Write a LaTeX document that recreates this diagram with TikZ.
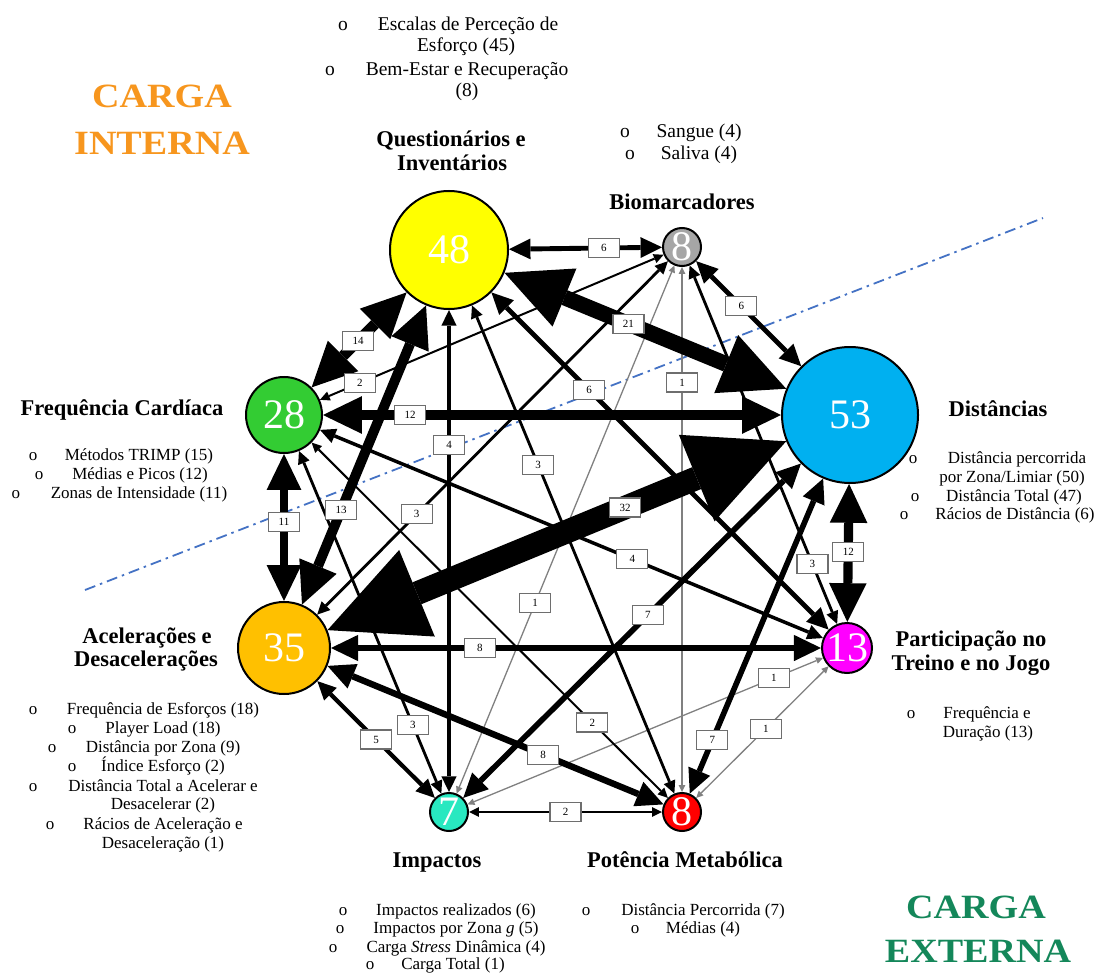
\documentclass[tikz,border=0pt]{standalone}
\usepackage{fontspec}
\setmainfont{Liberation Serif}
\usepackage{graphicx}
\usetikzlibrary{arrows.meta}
\pgfdeclarelayer{edgelayer}
\pgfsetlayers{edgelayer,main}

\definecolor{qyellow}{RGB}{255,255,0}
\definecolor{bgray}{RGB}{166,166,166}
\definecolor{dblue}{RGB}{0,176,240}
\definecolor{hgreen}{RGB}{51,204,51}
\definecolor{aorange}{RGB}{255,192,0}
\definecolor{pmagenta}{RGB}{255,0,255}
\definecolor{iturq}{RGB}{40,232,192}
\definecolor{mred}{RGB}{255,0,0}
\definecolor{intcol}{RGB}{247,150,30}
\definecolor{extcol}{RGB}{20,135,90}
\definecolor{splitblue}{RGB}{68,114,196}
\definecolor{boxgray}{RGB}{110,110,110}
\definecolor{thingray}{RGB}{128,128,128}

\tikzset{
  circ/.style={circle, draw=black, line width=2pt, inner sep=0pt, minimum size=#1},
  num/.style={text=white, font=\fontsize{42}{42}\selectfont, inner sep=0pt},
  % weighted double-headed connector: shaft width, head length, head width
  wgt/.style n args={3}{line width=#1pt,
    arrows={Triangle[length=#2pt,width=#3pt,line width=0pt]-Triangle[length=#2pt,width=#3pt,line width=0pt]}},
  e1/.style={wgt={1.3}{7}{6.8}, draw=thingray},
  e2/.style={wgt={2.0}{9.8}{9.6}},
  e3/.style={wgt={2.8}{12.7}{12.4}},
  e4/.style={wgt={3.5}{15.6}{15.2}},
  e5/.style={wgt={4.2}{18.5}{18}},
  e6/.style={wgt={4.9}{21.4}{20.8}},
  e7/.style={wgt={5.6}{24.3}{23.6}},
  e8/.style={wgt={6.4}{27.2}{26.4}},
  e11/.style={wgt={8.5}{35.9}{34.8}},
  e12/.style={wgt={9.2}{38.8}{37.6}},
  e13/.style={wgt={10}{41.7}{40.4}},
  e14/.style={wgt={10.7}{44.6}{43.2}},
  e21/.style={wgt={15.7}{64.9}{62.8}},
  e32/.style={wgt={23.6}{96.8}{93.6}},
  lab/.style={draw=boxgray, fill=white, line width=1.2pt, inner sep=0pt,
    minimum width=31pt, minimum height=19pt, font=\fontsize{11}{11}\selectfont},
  txt/.style={font=\fontsize{17}{19}\selectfont, anchor=base, inner sep=0pt},
  txtb/.style={font=\fontsize{19.5}{22}\selectfont, anchor=base, inner sep=0pt},
  ttl/.style={font=\bfseries\fontsize{22.5}{25}\selectfont, anchor=base, inner sep=0pt},
  big/.style={font=\bfseries\fontsize{34}{36}\selectfont, anchor=base, inner sep=0pt},
  splitline/.style={draw=splitblue, line width=1.8pt, dash pattern=on 11pt off 5pt on 2.5pt off 5pt},
}

\begin{document}
\begin{tikzpicture}[x=1pt,y=-1pt]
\useasboundingbox (0,0) rectangle (1099,973);

% ---- measure categories ----
\node[circ=118, fill=qyellow, label={[num]center:48}] (Q) at (449,250) {};
\node[circ=38, fill=bgray, label={[num]center:8}] (B) at (682,247) {};
\node[circ=136, fill=dblue, label={[num]center:53}] (D) at (850,415) {};
\node[circ=76, fill=hgreen, label={[num]center:28}] (H) at (284,415) {};
\node[circ=92, fill=aorange, label={[num]center:35}] (A) at (284,648) {};
\node[circ=50, fill=pmagenta, label={[num]center:13}] (P) at (847,648) {};
\node[circ=38, fill=iturq, label={[num]center:7}] (I) at (449,812) {};
\node[circ=38, fill=mred, label={[num]center:8}] (M) at (682,812) {};

% ---- co-occurrence links ----
\begin{pgfonlayer}{edgelayer}
\draw[splitline] (85,590) -- (1043,218);
\draw[e1] (B) -- coordinate[pos=0.22] (lBM) (M);
\draw[e1] (B) -- coordinate[pos=0.639] (lBI) (I);
\draw[e1] (I) -- coordinate[pos=0.862] (lIP) (P);
\draw[e1] (M) -- coordinate[pos=0.526] (lMP) (P);
\draw[e2] (H) -- coordinate[pos=0.116] (lHB) (B);
\draw[e2] (H) -- coordinate[pos=0.788] (lHM) (M);
\draw[e2] (I) -- coordinate[pos=0.5] (lIM) (M);
\draw[e3] (Q) -- coordinate[pos=0.327] (lQM) (M);
\draw[e3] (B) -- coordinate[pos=0.716] (lBA) (A);
\draw[e3] (B) -- coordinate[pos=0.833] (lBP) (P);
\draw[e3] (H) -- coordinate[pos=0.80] (lHI) (I);
\draw[e4] (Q) -- coordinate[pos=0.28] (lQI) (I);
\draw[e4] (H) -- coordinate[pos=0.621] (lHP) (P);
\draw[e5] (A) -- coordinate[pos=0.5] (lAI) (I);
\draw[e6] (Q) -- coordinate[pos=0.62] (lQB) (B);
\draw[e6] (B) -- coordinate[pos=0.43] (lBD) (D);
\draw[e6] (Q) -- coordinate[pos=0.29] (lQP) (P);
\draw[e7] (I) -- coordinate[pos=0.547] (lID) (D);
\draw[e7] (M) -- coordinate[pos=0.169] (lMD) (D);
\draw[e8] (A) -- coordinate[pos=0.304] (lAP) (P);
\draw[e8] (A) -- coordinate[pos=0.642] (lAM) (M);
\draw[e11] (H) -- coordinate[pos=0.46] (lHA) (A);
\draw[e12] (H) -- coordinate[pos=0.19] (lHD) (D);
\draw[e12] (D) -- coordinate[pos=0.49] (lDP) (P);
\draw[e13] (Q) -- coordinate[pos=0.684] (lQA) (A);
\draw[e14] (Q) -- coordinate[pos=0.51] (lQH) (H);
\draw[e21] (Q) -- coordinate[pos=0.44] (lQD) (D);
\draw[e32] (A) -- coordinate[pos=0.649] (lAD) (D);
\end{pgfonlayer}

% ---- link counts ----
\node[lab] (nBM) at (lBM) {1};
\node[lab] (nBI) at (lBI) {1};
\node[lab] (nIP) at (lIP) {1};
\node[lab] (nMP) at (lMP) {1};
\node[lab] (nHB) at (lHB) {2};
\node[lab] (nHM) at (lHM) {2};
\node[lab] (nIM) at (lIM) {2};
\node[lab] (nQM) at (lQM) {3};
\node[lab] (nBA) at (lBA) {3};
\node[lab] (nBP) at (lBP) {3};
\node[lab] (nHI) at (lHI) {3};
\node[lab] (nQI) at (lQI) {4};
\node[lab] (nHP) at (lHP) {4};
\node[lab] (nAI) at (lAI) {5};
\node[lab] (nQB) at (lQB) {6};
\node[lab] (nBD) at (lBD) {6};
\node[lab] (nQP) at (lQP) {6};
\node[lab] (nID) at (lID) {7};
\node[lab] (nMD) at (lMD) {7};
\node[lab] (nAP) at (lAP) {8};
\node[lab] (nAM) at (lAM) {8};
\node[lab] (nHA) at (lHA) {11};
\node[lab] (nHD) at (lHD) {12};
\node[lab] (nDP) at (lDP) {12};
\node[lab] (nQA) at (lQA) {13};
\node[lab] (nQH) at (lQH) {14};
\node[lab] (nQD) at (lQD) {21};
\node[lab] (nAD) at (lAD) {32};

% ---- load type headings ----
\node[big, text=intcol] (ci1) at (162,108) {\scalebox{1.12}[1]{CARGA}};
\node[big, text=intcol] (ci2) at (162,155) {\scalebox{1.12}[1]{INTERNA}};
\node[big, text=extcol] (ce1) at (976,918) {\scalebox{1.12}[1]{CARGA}};
\node[big, text=extcol] (ce2) at (978,962) {\scalebox{1.12}[1]{EXTERNA}};

% ---- questionnaires ----
\node[txtb] (bq1) at (343,31) {o};
\node[txtb] (tq1) at (468,31) {Escalas de Perceção de};
\node[txtb] (tq2) at (466,52) {Esforço (45)};
\node[txtb] (bq2) at (330,76) {o};
\node[txtb] (tq3) at (467,76) {Bem-Estar e Recuperação};
\node[txtb] (tq4) at (467,97) {(8)};
\node[ttl] (hq1) at (451,147) {Questionários e};
\node[ttl] (hq2) at (452,171) {Inventários};

% ---- biomarkers ----
\node[txtb] (bb1) at (625,138) {o};
\node[txtb] (tb1) at (699,138) {Sangue (4)};
\node[txtb] (bb2) at (630,160) {o};
\node[txtb] (tb2) at (699,160) {Saliva (4)};
\node[ttl] (hb) at (682,210) {Biomarcadores};

% ---- heart rate ----
\node[ttl] (hh) at (122,415) {Frequência Cardíaca};
\node[txt] (bh1) at (33,460) {o};
\node[txt] (th1) at (139,460) {Métodos TRIMP (15)};
\node[txt] (bh2) at (39,479) {o};
\node[txt] (th2) at (140,479) {Médias e Picos (12)};
\node[txt] (bh3) at (16,498) {o};
\node[txt] (th3) at (139,498) {Zonas de Intensidade (11)};

% ---- distances ----
\node[ttl] (hd) at (998,416) {Distâncias};
\node[txt] (bd1) at (913,463) {o};
\node[txt] (td1) at (1017,463) {Distância percorrida};
\node[txt] (td2) at (1012,482) {por Zona/Limiar (50)};
\node[txt] (bd2) at (915,501) {o};
\node[txt] (td3) at (1014,501) {Distância Total (47)};
\node[txt] (bd3) at (904,519) {o};
\node[txt] (td4) at (1015,519) {Rácios de Distância (6)};

% ---- accelerations ----
\node[ttl] (ha1) at (147,643) {Acelerações e};
\node[ttl] (ha2) at (146,666) {Desacelerações};
\node[txt] (ba1) at (33,714) {o};
\node[txt] (ta1) at (163,714) {Frequência de Esforços (18)};
\node[txt] (ba2) at (72,733) {o};
\node[txt] (ta2) at (163,733) {Player Load (18)};
\node[txt] (ba3) at (52,752) {o};
\node[txt] (ta3) at (163,752) {Distância por Zona (9)};
\node[txt] (ba4) at (72,771) {o};
\node[txt] (ta4) at (163,771) {Índice Esforço (2)};
\node[txt] (ba5) at (33,791) {o};
\node[txt] (ta5) at (163,791) {Distância Total a Acelerar e};
\node[txt] (ta6) at (163,809) {Desacelerar (2)};
\node[txt] (ba6) at (50,829) {o};
\node[txt] (ta7) at (163,829) {Rácios de Aceleração e};
\node[txt] (ta8) at (163,848) {Desaceleração (1)};

% ---- participation ----
\node[ttl] (hp1) at (971,646) {Participação no};
\node[ttl] (hp2) at (971,670) {Treino e no Jogo};
\node[txt] (bp1) at (911,718) {o};
\node[txt] (tp1) at (987,718) {Frequência e};
\node[txt] (tp2) at (988,737) {Duração (13)};

% ---- impacts ----
\node[ttl] (hi) at (437,867) {Impactos};
\node[txt] (bi1) at (343,915) {o};
\node[txt] (ti1) at (456,915) {Impactos realizados (6)};
\node[txt] (bi2) at (340,933) {o};
\node[txt] (ti2) at (456,933) {Impactos por Zona \textit{g} (5)};
\node[txt] (bi3) at (333,952) {o};
\node[txt] (ti3) at (456,952) {Carga \textit{Stress} Dinâmica (4)};
\node[txt] (bi4) at (370,969) {o};
\node[txt] (ti4) at (453,969) {Carga Total (1)};

% ---- metabolic power ----
\node[ttl] (hm) at (685,867) {Potência Metabólica};
\node[txt] (bm1) at (586,915) {o};
\node[txt] (tm1) at (703,915) {Distância Percorrida (7)};
\node[txt] (bm2) at (635,933) {o};
\node[txt] (tm2) at (703,933) {Médias (4)};
\end{tikzpicture}
\end{document}
